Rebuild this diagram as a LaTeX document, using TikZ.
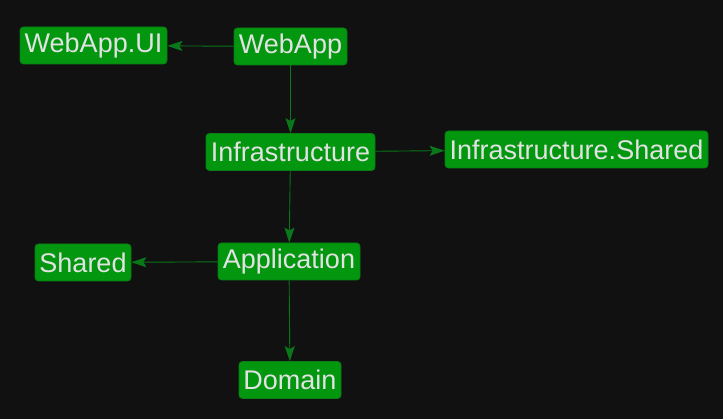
\documentclass[tikz,border=0pt]{standalone}
\usepackage{fontspec}
\setmainfont{Liberation Sans}
\usetikzlibrary{arrows.meta}

\definecolor{Back}{HTML}{111111}
\definecolor{Box}{HTML}{02970F}
\definecolor{BoxLine}{HTML}{0A7E12}
\definecolor{Edge}{HTML}{08781A}
\definecolor{Label}{HTML}{E2E2E2}
\tikzstyle{Proj} = [draw=BoxLine,
                    fill=Box,
                    rectangle,
                    rounded corners=3.5pt,
                    line width=0.8pt,
                    text=Label,
                    minimum height=37pt,
                    inner xsep=4pt,
                    font=\fontsize{27}{30}\selectfont]
\tikzstyle{Dep} = [draw=Edge, line width=0.9pt, -{Stealth[length=15pt,width=10pt,inset=3pt]}]

\begin{document}
\begin{tikzpicture}[x=1pt, y=-1pt]

    \fill[Back] (0, 0) rectangle (723, 419);

    % Project nodes
    \node (webappui) at (93.5, 45.5) [Proj, minimum width=147pt]{WebApp.UI};
    \node (webapp) at (290.5, 46.5) [Proj, minimum width=113pt]{WebApp};
    \node (infra) at (290.5, 152) [Proj, minimum width=169pt]{Infrastructure};
    \node (infrashared) at (576.5, 149.5) [Proj, minimum width=263pt]{Infrastructure.Shared};
    \node (shared) at (83, 262.5) [Proj, minimum width=96pt]{Shared};
    \node (application) at (289, 261.5) [Proj, minimum width=142pt]{Application};
    \node (domain) at (290, 380) [Proj, minimum width=102pt]{Domain};

    % References
    \draw [Dep] (webapp) -- (webappui);
    \draw [Dep] (webapp) -- (infra);
    \draw [Dep] (infra) -- (infrashared);
    \draw [Dep] (infra) -- (application);
    \draw [Dep] (application) -- (shared);
    \draw [Dep] (application) -- (domain);

\end{tikzpicture}
\end{document}
